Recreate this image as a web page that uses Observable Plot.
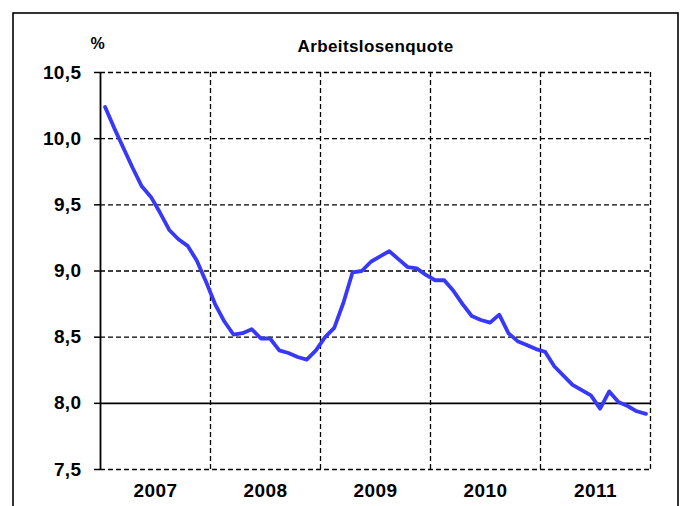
<!DOCTYPE html>
<html><head><meta charset="utf-8">
<script src="https://cdn.jsdelivr.net/npm/d3@7"></script>
<script src="https://cdn.jsdelivr.net/npm/@observablehq/plot@0.6"></script>
<style>
body{margin:0;background:#fff;}
#chart{width:688px;height:506px;overflow:hidden;}
</style></head><body><div id="chart"></div>
<script>
const years = ["2007", "2008", "2009", "2010", "2011"];
const quote2007 = [10.24, 10.08, 9.93, 9.78, 9.64, 9.56, 9.44, 9.31, 9.24, 9.19, 9.08, 8.92];
const quote2008 = [8.75, 8.62, 8.52, 8.53, 8.56, 8.49, 8.49, 8.40, 8.38, 8.35, 8.33, 8.40];
const quote2009 = [8.50, 8.57, 8.76, 8.99, 9.00, 9.07, 9.11, 9.15, 9.09, 9.03, 9.02, 8.97];
const quote2010 = [8.93, 8.93, 8.85, 8.75, 8.66, 8.63, 8.61, 8.67, 8.53, 8.47, 8.44, 8.41];
const quote2011 = [8.39, 8.28, 8.21, 8.14, 8.10, 8.06, 7.96, 8.09, 8.01, 7.98, 7.94, 7.92];
const yTicks = [7.5, 8.0, 8.5, 9.0, 9.5, 10.0, 10.5];
const title = "Arbeitslosenquote";
const unit = "%";

const values = [...quote2007, ...quote2008, ...quote2009, ...quote2010, ...quote2011];
const data = values.map((v, i) => ({m: i + 0.5, v}));
const gridY = yTicks.filter(d => d !== 8.0);
const yearEnds = years.map((y, i) => (i + 1) * 12);
const yearMid = years.map((y, i) => i * 12 + 6);

const font = "'Liberation Sans', Arial, sans-serif";
const dash = "5,3";
const plot = Plot.plot({
  width: 688, height: 506,
  marginLeft: 100, marginRight: 38, marginTop: 72, marginBottom: 37,
  style: {fontFamily: font, fontSize: "19px", fontWeight: "bold", background: "transparent", color: "#000", overflow: "visible"},
  x: {domain: [0, 60], axis: null},
  y: {domain: [7.5, 10.5], axis: null},
  marks: [
    Plot.ruleY(gridY, {stroke: "#000", strokeWidth: 1.3, strokeDasharray: dash}),
    Plot.ruleX(yearEnds, {stroke: "#000", strokeWidth: 1.3, strokeDasharray: dash}),
    Plot.ruleY([8.0], {stroke: "#000", strokeWidth: 1.8}),
    Plot.ruleX([0], {stroke: "#000", strokeWidth: 1.8}),
    Plot.axisY({ticks: yTicks, tickSize: 6, tickPadding: 13, label: null, strokeWidth: 1.5,
      tickFormat: d => d.toFixed(1).replace(".", ",")}),
    Plot.axisX({ticks: yearMid, tickSize: 0, tickPadding: 14, label: null,
      tickFormat: d => years[Math.round((d - 6) / 12)]}),
    Plot.line(data, {x: "m", y: "v", stroke: "#3838f8", strokeWidth: 3.8}),
    Plot.text([title], {frameAnchor: "top", dy: -21, lineAnchor: "bottom", fontSize: 17, fontWeight: "bold"}),
    Plot.text([unit], {frameAnchor: "top-left", dx: -10, dy: -24, textAnchor: "start", lineAnchor: "bottom", fontSize: 16, fontWeight: "bold"})
  ]
});
d3.select(plot).selectAll("text").style("letter-spacing", "0.4px");
d3.select(plot).append("rect")
  .attr("x", 13).attr("y", 13).attr("width", 665).attr("height", 520)
  .attr("fill", "none").attr("stroke", "#000").attr("stroke-width", 1.6);
document.getElementById("chart").appendChild(plot);
</script></body></html>
